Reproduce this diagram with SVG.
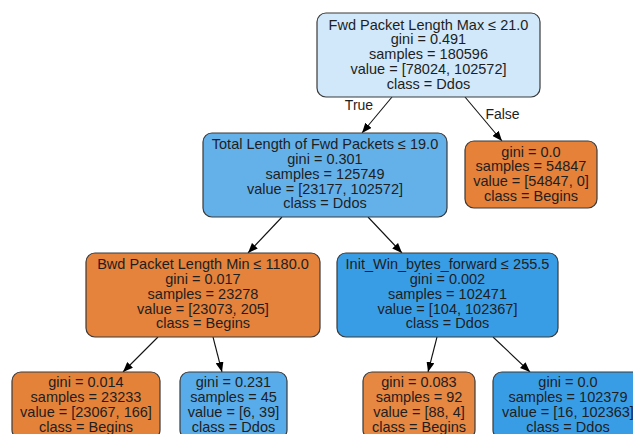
<svg xmlns="http://www.w3.org/2000/svg" width="633" height="434" viewBox="0 0 633 434">
<style>
  .box { stroke: #3a3a3a; stroke-width: 1.2; }
  .t { font-family: "Liberation Sans", Arial, sans-serif; font-size: 14.5px; fill: #1e1e1e; text-anchor: middle; }
  .e { stroke: #111; stroke-width: 1.1; fill: none; marker-end: url(#arr); }
  .lbl { font-family: "Liberation Sans", Arial, sans-serif; font-size: 14px; fill: #1e1e1e; text-anchor: middle; }
</style>
<defs>
  <marker id="arr" viewBox="0 0 10 8" refX="10" refY="4" markerWidth="10" markerHeight="8" markerUnits="userSpaceOnUse" orient="auto">
    <path d="M0,0 L10,4 L0,8 z" fill="#000"/>
  </marker>
</defs>
<rect width="633" height="434" fill="#fff"/>
<g id="edges">
  <line class="e" x1="392" y1="97" x2="362" y2="133"/>
  <line class="e" x1="465" y1="97" x2="502" y2="141"/>
  <line class="e" x1="282" y1="217" x2="248" y2="253"/>
  <line class="e" x1="368" y1="217" x2="402" y2="253"/>
  <line class="e" x1="158" y1="337" x2="123" y2="372"/>
  <line class="e" x1="213" y1="337" x2="222" y2="372"/>
  <line class="e" x1="437" y1="337" x2="428" y2="372"/>
  <line class="e" x1="493" y1="337" x2="530" y2="372"/>
  <text class="lbl" x="359" y="109.5">True</text>
  <text class="lbl" x="502.5" y="118.5">False</text>
</g>
<g id="node0">
  <rect class="box" x="317" y="13" width="223" height="84" rx="9" fill="#d0e8f9"/>
  <text class="t" x="428.5" y="29.5">Fwd Packet Length Max ≤ 21.0</text>
  <text class="t" x="428.5" y="44.3">gini = 0.491</text>
  <text class="t" x="428.5" y="59.1">samples = 180596</text>
  <text class="t" x="428.5" y="73.9">value = [78024, 102572]</text>
  <text class="t" x="428.5" y="88.7">class = Ddos</text>
</g>
<g id="node1">
  <rect class="box" x="203" y="133" width="244" height="84" rx="9" fill="#64b1ea"/>
  <text class="t" x="325" y="149.2">Total Length of Fwd Packets ≤ 19.0</text>
  <text class="t" x="325" y="164">gini = 0.301</text>
  <text class="t" x="325" y="178.8">samples = 125749</text>
  <text class="t" x="325" y="193.6">value = [23177, 102572]</text>
  <text class="t" x="325" y="208.4">class = Ddos</text>
</g>
<g id="node2">
  <rect class="box" x="465" y="141" width="132" height="67" rx="9" fill="#e58139"/>
  <text class="t" x="531" y="156.5">gini = 0.0</text>
  <text class="t" x="531" y="171.3">samples = 54847</text>
  <text class="t" x="531" y="186.1">value = [54847, 0]</text>
  <text class="t" x="531" y="200.9">class = Begins</text>
</g>
<g id="node3">
  <rect class="box" x="86" y="253" width="234" height="84" rx="9" fill="#e5823b"/>
  <text class="t" x="203" y="269.2">Bwd Packet Length Min ≤ 1180.0</text>
  <text class="t" x="203" y="284">gini = 0.017</text>
  <text class="t" x="203" y="298.8">samples = 23278</text>
  <text class="t" x="203" y="313.6">value = [23073, 205]</text>
  <text class="t" x="203" y="328.4">class = Begins</text>
</g>
<g id="node4">
  <rect class="box" x="337" y="253" width="221" height="84" rx="9" fill="#399de5"/>
  <text class="t" x="447.5" y="269.2">Init_Win_bytes_forward ≤ 255.5</text>
  <text class="t" x="447.5" y="284">gini = 0.002</text>
  <text class="t" x="447.5" y="298.8">samples = 102471</text>
  <text class="t" x="447.5" y="313.6">value = [104, 102367]</text>
  <text class="t" x="447.5" y="328.4">class = Ddos</text>
</g>
<g id="node5">
  <rect class="box" x="12" y="372" width="148" height="67" rx="9" fill="#e5823a"/>
  <text class="t" x="86" y="387.2">gini = 0.014</text>
  <text class="t" x="86" y="402">samples = 23233</text>
  <text class="t" x="86" y="416.8">value = [23067, 166]</text>
  <text class="t" x="86" y="431.6">class = Begins</text>
</g>
<g id="node6">
  <rect class="box" x="180" y="372" width="107" height="67" rx="9" fill="#58ace9"/>
  <text class="t" x="233.5" y="387.2">gini = 0.231</text>
  <text class="t" x="233.5" y="402">samples = 45</text>
  <text class="t" x="233.5" y="416.8">value = [6, 39]</text>
  <text class="t" x="233.5" y="431.6">class = Ddos</text>
</g>
<g id="node7">
  <rect class="box" x="363" y="372" width="112" height="67" rx="9" fill="#e68742"/>
  <text class="t" x="419" y="387.2">gini = 0.083</text>
  <text class="t" x="419" y="402">samples = 92</text>
  <text class="t" x="419" y="416.8">value = [88, 4]</text>
  <text class="t" x="419" y="431.6">class = Begins</text>
</g>
<g id="node8">
  <rect class="box" x="493" y="372" width="150" height="67" rx="9" fill="#399de5"/>
  <text class="t" x="568" y="387.2">gini = 0.0</text>
  <text class="t" x="568" y="402">samples = 102379</text>
  <text class="t" x="568" y="416.8">value = [16, 102363]</text>
  <text class="t" x="568" y="431.6">class = Ddos</text>
</g>
</svg>
